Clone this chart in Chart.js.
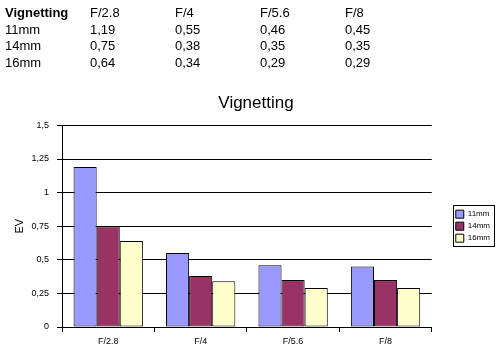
<!DOCTYPE html>
<html>
<head>
<meta charset="utf-8">
<script src="https://cdn.jsdelivr.net/npm/chart.js@4"></script>
<style>
  html, body { margin: 0; padding: 0; background: #fff; }
  #wrap { position: relative; width: 500px; height: 356px; overflow: hidden; }
  #c { position: absolute; left: 0; top: 0; }
  #tbl { position: absolute; left: 5px; top: 5px; font-family: "Liberation Sans", Arial, sans-serif; font-size: 13px; color: #000; }
  #tbl div.row { position: relative; height: 16.7px; }
  #tbl span { position: absolute; top: 0; white-space: nowrap; }
</style>
</head>
<body>
<div id="wrap">
  <canvas id="c" width="500" height="356"></canvas>
  <div id="tbl"></div>
</div>
<script>
const chartTitle = "Vignetting";
const categories = ["F/2.8", "F/4", "F/5.6", "F/8"];
const seriesNames = ["11mm", "14mm", "16mm"];
const values11 = [1.19, 0.55, 0.46, 0.45];
const values14 = [0.75, 0.38, 0.35, 0.35];
const values16 = [0.64, 0.34, 0.29, 0.29];
const seriesColors = ["#9999FF", "#993366", "#FFFFCC"];
const yTicks = [0, 0.25, 0.5, 0.75, 1, 1.25, 1.5];
const yTitle = "EV";

const fmt = v => String(v).replace('.', ',');

// HTML table at top
const tbl = document.getElementById('tbl');
const colX = [0, 85, 170, 255, 340];
function addRow(cells, bold) {
  const r = document.createElement('div');
  r.className = 'row';
  cells.forEach((t, i) => {
    const s = document.createElement('span');
    s.textContent = t;
    s.style.left = colX[i] + 'px';
    if (bold && i === 0) s.style.fontWeight = 'bold';
    r.appendChild(s);
  });
  tbl.appendChild(r);
}
addRow([chartTitle, ...categories], true);
[values11, values14, values16].forEach((vals, i) => addRow([seriesNames[i], ...vals.map(fmt)], false));

const legendBorder = {
  id: 'legendBorder',
  afterDraw(chart) {
    const lg = chart.legend;
    if (!lg || !lg.legendHitBoxes || !lg.legendHitBoxes.length) return;
    const hb = lg.legendHitBoxes;
    let x0 = Infinity, y0 = Infinity, x1 = -Infinity, y1 = -Infinity;
    hb.forEach(b => { x0 = Math.min(x0, b.left); y0 = Math.min(y0, b.top); x1 = Math.max(x1, b.left + b.width); y1 = Math.max(y1, b.top + b.height); });
    const ctx = chart.ctx;
    ctx.save();
    ctx.strokeStyle = '#000';
    ctx.lineWidth = 1;
    ctx.strokeRect(Math.round(x0 - 3) + 0.5, Math.round(y0 - 5) + 0.5, Math.round(x1 - x0 + 7), Math.round(y1 - y0 + 9));
    ctx.restore();
  }
};

Chart.defaults.font.family = '"Liberation Sans", Arial, sans-serif';
Chart.defaults.color = '#000';

new Chart(document.getElementById('c'), {
  type: 'bar',
  data: {
    labels: categories,
    datasets: [values11, values14, values16].map((vals, i) => ({
      label: seriesNames[i],
      data: vals,
      backgroundColor: seriesColors[i],
      borderColor: '#000',
      borderWidth: 1,
      borderSkipped: false,
      categoryPercentage: 0.75,
      barPercentage: 1.0,
      yAxisID: 'y'
    }))
  },
  options: {
    responsive: false,
    animation: false,
    devicePixelRatio: 1,
    layout: { padding: { left: 12, right: 0, top: 0, bottom: 0 } },
    plugins: {
      title: {
        display: true,
        text: chartTitle,
        font: { size: 17, weight: 'normal' },
        color: '#000',
        padding: { top: 93, bottom: 12 }
      },
      legend: {
        position: 'right',
        align: 'center',
        fullSize: false,
        labels: {
          boxWidth: 8,
          boxHeight: 8,
          padding: 4,
          font: { size: 8 },
          color: '#000',
          generateLabels(chart) {
            return chart.data.datasets.map((d, i) => ({
              text: d.label,
              fillStyle: d.backgroundColor,
              strokeStyle: '#000',
              lineWidth: 1,
              hidden: false,
              datasetIndex: i
            }));
          }
        }
      },
      tooltip: { enabled: false }
    },
    scales: {
      x: {
        grid: { display: true, drawOnChartArea: false, drawTicks: true, tickLength: 5, color: '#000', offset: true },
        border: { display: true, color: '#000', width: 1 },
        ticks: { font: { size: 9 }, color: '#000', padding: 4, maxRotation: 0 },
        afterFit(scale) { scale.height = 29; }
      },
      y: {
        min: 0,
        max: 1.5,
        afterBuildTicks(scale) { scale.ticks = yTicks.map(v => ({ value: v })); },
        grid: { color: '#000', tickLength: 5, drawTicks: true },
        border: { display: true, color: '#000', width: 1 },
        ticks: { font: { size: 9 }, color: '#000', padding: 8, callback: v => fmt(v) },
        title: { display: true, text: yTitle, font: { size: 11 }, color: '#000', padding: { top: 1, bottom: 8 } },
        afterFit(scale) { scale.width = 50; }
      },
      spacer: {
        position: 'right',
        display: true,
        min: 0,
        max: 1,
        grid: { display: false, drawOnChartArea: false },
        border: { display: false },
        ticks: { display: false },
        afterFit(scale) { scale.width = 20; }
      }
    }
  },
  plugins: [legendBorder]
});
</script>
</body>
</html>
